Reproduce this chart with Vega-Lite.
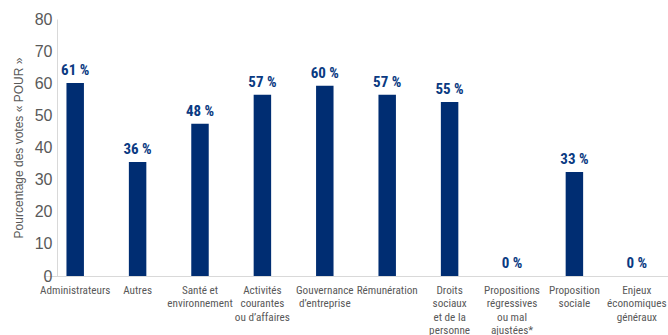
{
  "$schema": "https://vega.github.io/schema/vega-lite/v6.json",
  "width": 624,
  "height": 257,
  "autosize": {"type": "none"},
  "padding": {"left": 44, "top": 19, "right": 0, "bottom": 59},
  "background": "white",
  "config": {"view": {"stroke": null}},
  "data": {
    "values": [
      {"cat": "Administrateurs", "value": 60.1, "label": "61 %"},
      {"cat": "Autres", "value": 35.5, "label": "36 %"},
      {"cat": "Santé et\nenvironnement", "value": 47.4, "label": "48 %"},
      {"cat": "Activités\ncourantes\nou d’affaires", "value": 56.4, "label": "57 %"},
      {"cat": "Gouvernance\nd’entreprise", "value": 59.2, "label": "60 %"},
      {"cat": "Rémunération", "value": 56.4, "label": "57 %"},
      {"cat": "Droits\nsociaux\net de la\npersonne", "value": 54.2, "label": "55 %"},
      {"cat": "Propositions\nrégressives\nou mal\najustées*", "value": 0, "label": "0 %"},
      {"cat": "Proposition\nsociale", "value": 32.4, "label": "33 %"},
      {"cat": "Enjeux\néconomiques\ngénéraux", "value": 0, "label": "0 %"}
    ]
  },
  "encoding": {
    "x": {
      "field": "cat",
      "type": "nominal",
      "sort": null,
      "scale": {"paddingInner": 0.72, "paddingOuter": 0.36},
      "axis": {
        "title": null,
        "labelAngle": 0,
        "labelExpr": "split(datum.value, '\\n')",
        "labelFont": "Roboto Condensed",
        "labelFontSize": 11.2,
        "labelColor": "#595959",
        "labelLineHeight": 13.5,
        "labelPadding": 8,
        "labelLimit": 0,
        "ticks": false,
        "domainColor": "#d9d9d9",
        "domainWidth": 1
      }
    },
    "y": {
      "field": "value",
      "type": "quantitative",
      "scale": {"domain": [0, 80], "nice": false},
      "axis": {
        "title": "Pourcentage des votes « POUR »",
        "titleFont": "Liberation Sans",
        "titleFontSize": 12,
        "titleFontWeight": "normal",
        "titleColor": "#595959",
        "titlePadding": 9,
        "values": [0, 10, 20, 30, 40, 50, 60, 70, 80],
        "offset": -13,
        "labelFont": "Liberation Sans",
        "labelFontSize": 16,
        "labelColor": "#595959",
        "labelPadding": 5,
        "ticks": false,
        "grid": false,
        "domainColor": "#d9d9d9",
        "domainWidth": 1
      }
    }
  },
  "layer": [
    {"mark": {"type": "bar", "color": "#002d72"}},
    {
      "mark": {
        "type": "text",
        "baseline": "bottom",
        "dy": -5,
        "font": "Roboto Condensed",
        "fontSize": 15,
        "fontWeight": "bold",
        "color": "#0a3a82"
      },
      "encoding": {"text": {"field": "label"}}
    }
  ]
}
